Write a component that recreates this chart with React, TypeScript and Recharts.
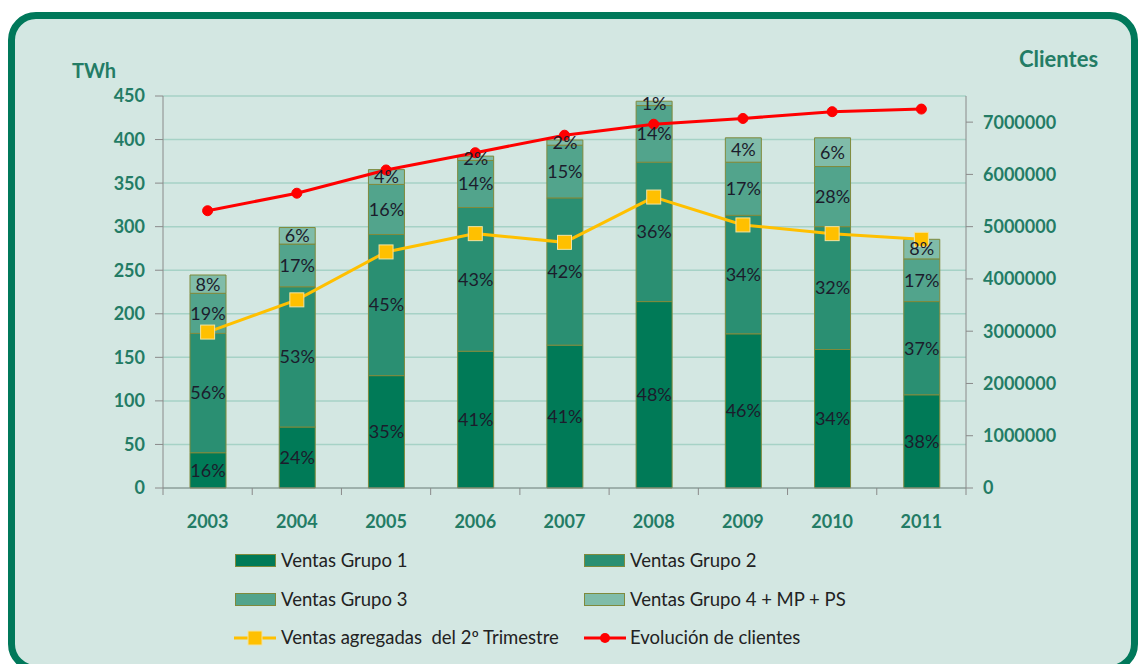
import React from 'react'
import {
  ComposedChart, Bar, Line, LabelList,
  XAxis, YAxis, CartesianGrid,
} from 'recharts'

// ── Datos ────────────────────────────────────────────────────────
const years = ['2003', '2004', '2005', '2006', '2007', '2008', '2009', '2010', '2011']

// TWh por grupo (altura de cada tramo)
const ventasGrupo1 = [40.5, 70, 129, 157, 164, 214, 177, 159, 107]
const ventasGrupo2 = [137, 161, 162, 165, 169, 160, 136, 141, 107]
const ventasGrupo3 = [46, 49, 57.5, 54, 60.5, 65, 61, 69, 49]
const ventasGrupo4 = [21, 19, 17, 5, 6, 5, 28, 33, 22.5]

// etiquetas de porcentaje tal como aparecen
const pctGrupo1 = ['16%', '24%', '35%', '41%', '41%', '48%', '46%', '34%', '38%']
const pctGrupo2 = ['56%', '53%', '45%', '43%', '42%', '36%', '34%', '32%', '37%']
const pctGrupo3 = ['19%', '17%', '16%', '14%', '15%', '14%', '17%', '28%', '17%']
const pctGrupo4 = ['8%', '6%', '4%', '2%', '2%', '1%', '4%', '6%', '8%']

const ventasTrimestre = [179, 216, 271, 292, 282, 334, 302, 292, 285.5]
const clientes = [5305000, 5640000, 6085000, 6415000, 6750000, 6960000, 7070000, 7200000, 7250000]

const twhTicks = [0, 50, 100, 150, 200, 250, 300, 350, 400, 450]
const clientesTicks = [0, 1000000, 2000000, 3000000, 4000000, 5000000, 6000000, 7000000]

const data = years.map((year, i) => ({
  year,
  g1: ventasGrupo1[i], g2: ventasGrupo2[i], g3: ventasGrupo3[i], g4: ventasGrupo4[i],
  l1: pctGrupo1[i], l2: pctGrupo2[i], l3: pctGrupo3[i], l4: pctGrupo4[i],
  trimestre: ventasTrimestre[i],
  clientes: clientes[i],
}))

// ── Estilo ──────────────────────────────────────────────────────
const W = 1138
const H = 664
const MARGIN = { top: 96, right: 72, bottom: 136, left: 103 }
const Y_LEFT_W = 60
const Y_RIGHT_W = 100
const PLOT_W = W - MARGIN.left - MARGIN.right - Y_LEFT_W - Y_RIGHT_W
const BAND = PLOT_W / years.length

const C_G1 = '#007a57'
const C_G2 = '#2a8f72'
const C_G3 = '#52a48c'
const C_G4 = '#80bca9'
const C_EDGE = '#7f8a3c'
const C_TEXT = '#237c65'
const C_AXIS = '#8a8a8a'
const C_GRID = '#a6d2c6'
const C_BG = '#d3e7e2'

const labelStyle = { fontSize: 18, fill: '#1c1c2c', fontFamily: 'Lato' }

const XTick = (props: any) => {
  const { x, y, payload, index } = props
  const last = index === years.length - 1
  return (
    <g>
      <line x1={x - BAND / 2} x2={x - BAND / 2} y1={y} y2={y + 7} stroke={C_AXIS} />
      {last && <line x1={x + BAND / 2} x2={x + BAND / 2} y1={y} y2={y + 7} stroke={C_AXIS} />}
      <text x={x} y={y + 40} textAnchor="middle" fill={C_TEXT} fontSize={18} fontWeight="bold">
        {payload.value}
      </text>
    </g>
  )
}

const SquareDot = (props: any) => {
  const { cx, cy } = props
  if (cx == null || cy == null) return null
  return <rect x={cx - 7} y={cy - 7} width={14} height={14} fill="#ffc000" stroke="#f2e3a0" strokeWidth={1} />
}

const legendText: React.CSSProperties = { position: 'absolute', fontSize: 18.5, color: '#222', lineHeight: '20px', whiteSpace: 'pre' }

const Swatch = ({ left, top, color }: { left: number; top: number; color: string }) => (
  <div style={{ position: 'absolute', left, top, width: 41, height: 13, background: color, border: `1px solid ${C_EDGE}`, boxSizing: 'border-box' }} />
)

export default function App() {
  return (
    <div style={{ position: 'absolute', left: 0, top: 0, width: W, height: H, overflow: 'hidden', background: '#fff', fontFamily: 'Lato' }}>
      {/* marco verde */}
      <div style={{
        position: 'absolute', left: 8, top: 12, width: 1130, height: 660,
        border: '7px solid #00785a', borderRadius: 28, background: C_BG, boxSizing: 'border-box',
      }} />

      <div style={{ position: 'absolute', left: 72, top: 58, fontSize: 20, fontWeight: 'bold', color: C_TEXT }}>TWh</div>
      <div style={{ position: 'absolute', left: 1019, top: 45, fontSize: 22, fontWeight: 'bold', color: C_TEXT }}>Clientes</div>

      <div style={{ position: 'absolute', left: 0, top: 0 }}>
        <ComposedChart width={W} height={H} data={data} margin={MARGIN} barCategoryGap={0}>
          <CartesianGrid yAxisId="left" vertical={false} stroke={C_GRID} strokeWidth={1.5} />
          <XAxis
            dataKey="year"
            height={40}
            tickLine={false}
            tickSize={0}
            tickMargin={0}
            axisLine={{ stroke: C_AXIS }}
            tick={<XTick />}
            interval={0}
          />
          <YAxis
            yAxisId="left"
            width={Y_LEFT_W}
            domain={[0, 450]}
            ticks={twhTicks}
            interval={0}
            tickSize={8}
            tickMargin={10}
            axisLine={{ stroke: C_AXIS }}
            tickLine={{ stroke: C_AXIS }}
            tick={{ fill: C_TEXT, fontSize: 18, fontWeight: 'bold' }}
          />
          <YAxis
            yAxisId="right"
            orientation="right"
            width={Y_RIGHT_W}
            domain={[0, 7500000]}
            ticks={clientesTicks}
            interval={0}
            tickSize={7}
            tickMargin={10}
            axisLine={{ stroke: C_AXIS }}
            tickLine={{ stroke: C_AXIS }}
            tick={{ fill: C_TEXT, fontSize: 18, fontWeight: 'bold' }}
          />

          <Bar yAxisId="left" dataKey="g1" stackId="v" barSize={36} fill={C_G1} stroke={C_EDGE} strokeWidth={1} isAnimationActive={false}>
            <LabelList dataKey="l1" position="center" style={labelStyle} />
          </Bar>
          <Bar yAxisId="left" dataKey="g2" stackId="v" barSize={36} fill={C_G2} stroke={C_EDGE} strokeWidth={1} isAnimationActive={false}>
            <LabelList dataKey="l2" position="center" style={labelStyle} />
          </Bar>
          <Bar yAxisId="left" dataKey="g3" stackId="v" barSize={36} fill={C_G3} stroke={C_EDGE} strokeWidth={1} isAnimationActive={false}>
            <LabelList dataKey="l3" position="center" style={labelStyle} />
          </Bar>
          <Bar yAxisId="left" dataKey="g4" stackId="v" barSize={36} fill={C_G4} stroke={C_EDGE} strokeWidth={1} isAnimationActive={false}>
            <LabelList dataKey="l4" position="center" style={labelStyle} />
          </Bar>

          <Line yAxisId="left" dataKey="trimestre" stroke="#ffc000" strokeWidth={3} dot={<SquareDot />} activeDot={false} isAnimationActive={false} />
          <Line yAxisId="right" dataKey="clientes" stroke="#ff0000" strokeWidth={3} dot={{ r: 5, fill: '#ff0000', stroke: '#ff0000', strokeWidth: 1 }} activeDot={false} isAnimationActive={false} />
        </ComposedChart>
      </div>

      {/* leyenda */}
      <Swatch left={235} top={554} color={C_G1} />
      <div style={{ ...legendText, left: 281, top: 550 }}>Ventas Grupo 1</div>
      <Swatch left={584} top={554} color={C_G2} />
      <div style={{ ...legendText, left: 630, top: 550 }}>Ventas Grupo 2</div>

      <Swatch left={235} top={593} color={C_G3} />
      <div style={{ ...legendText, left: 281, top: 589 }}>Ventas Grupo 3</div>
      <Swatch left={584} top={593} color={C_G4} />
      <div style={{ ...legendText, left: 630, top: 589 }}>Ventas Grupo 4 + MP + PS</div>

      <svg style={{ position: 'absolute', left: 230, top: 626 }} width={50} height={24}>
        <line x1={4} x2={46} y1={12} y2={12} stroke="#ffc000" strokeWidth={3} />
        <rect x={18} y={5} width={14} height={14} fill="#ffc000" stroke="#f2e3a0" />
      </svg>
      <div style={{ ...legendText, left: 281, top: 627 }}>Ventas agregadas  del 2º Trimestre</div>
      <svg style={{ position: 'absolute', left: 580, top: 626 }} width={50} height={24}>
        <line x1={4} x2={46} y1={12} y2={12} stroke="#ff0000" strokeWidth={3} />
        <circle cx={25} cy={12} r={5} fill="#ff0000" />
      </svg>
      <div style={{ ...legendText, left: 630, top: 627 }}>Evolución de clientes</div>
    </div>
  )
}
